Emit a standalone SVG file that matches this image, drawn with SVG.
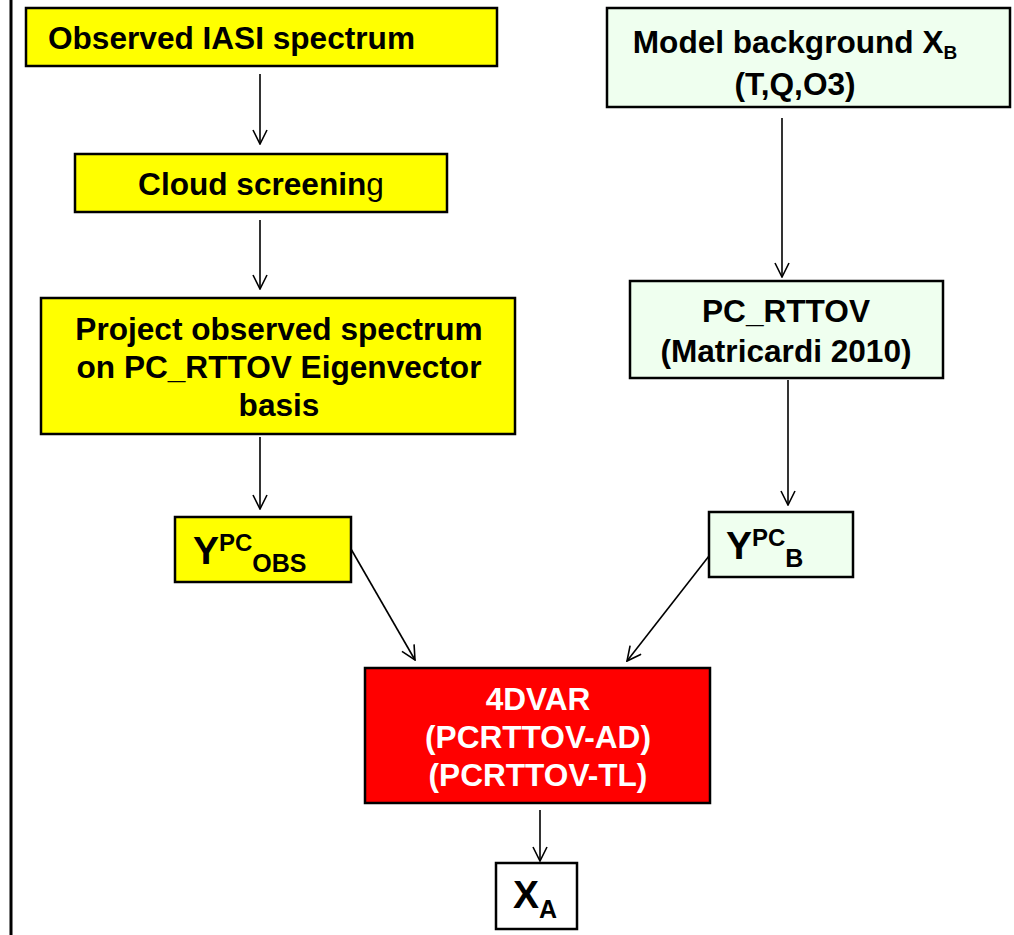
<svg xmlns="http://www.w3.org/2000/svg" width="1014" height="935" viewBox="0 0 1014 935">
<defs>
<style>
.box{stroke:#000;stroke-width:2.5}
.yel{fill:#FFFF00}
.grn{fill:#EFFFEF}
.red{fill:#FF0000}
.wht{fill:#FFFFFF}
.t{font-family:"Liberation Sans",Arial,sans-serif;font-weight:bold;font-size:31.6px;fill:#000;text-anchor:middle}
.tw{fill:#FFFFFF}
.big{font-size:39px}
.sup{font-size:24px}
.sub{font-size:25px}
.conn line{stroke:#000;stroke-width:1.6;marker-end:url(#arr)}
</style>
<marker id="arr" viewBox="0 0 16 16" refX="15" refY="8" markerWidth="16" markerHeight="16" markerUnits="userSpaceOnUse" orient="auto">
<path d="M1,1 L15,8 L1,15" fill="none" stroke="#000" stroke-width="1.6"/>
</marker>
</defs>
<rect x="0" y="0" width="1014" height="935" fill="#FFFFFF"/>
<line x1="11" y1="0" x2="11" y2="935" stroke="#000" stroke-width="3"/>

<g id="conn" class="conn">
<line x1="260" y1="74" x2="260" y2="144"/>
<line x1="260" y1="220" x2="260" y2="289"/>
<line x1="260" y1="437" x2="260" y2="509"/>
<line x1="782" y1="118" x2="782" y2="277"/>
<line x1="788" y1="380" x2="788" y2="505"/>
<line x1="351" y1="549" x2="415" y2="660"/>
<line x1="709" y1="556" x2="627" y2="661"/>
<line x1="540" y1="810" x2="540" y2="861"/>
</g>

<g id="obs">
<rect class="box yel" x="26" y="8" width="471" height="58"/>
<text class="t" x="48" y="49" style="text-anchor:start">Observed IASI spectrum</text>
</g>

<g id="cloud">
<rect class="box yel" x="75" y="154" width="372" height="58"/>
<text class="t" x="261" y="195">Cloud screenin<tspan style="font-weight:normal">g</tspan></text>
</g>

<g id="project">
<rect class="box yel" x="41" y="298" width="474" height="136"/>
<text class="t" x="279" y="340">Project observed spectrum</text>
<text class="t" x="279" y="378">on PC_RTTOV Eigenvector</text>
<text class="t" x="279" y="416">basis</text>
</g>

<g id="ypcobs">
<rect class="box yel" x="175" y="517" width="176" height="65"/>
<text class="t big" x="193" y="564" style="text-anchor:start">Y<tspan class="sup" dy="-13">PC</tspan><tspan class="sub" dy="21">OBS</tspan></text>
</g>

<g id="model">
<rect class="box grn" x="607" y="8" width="403" height="99"/>
<text class="t" x="795" y="53">Model background X<tspan style="font-size:19px" dy="6">B</tspan></text>
<text class="t" x="795" y="95">(T,Q,O3)</text>
</g>

<g id="pcrttov">
<rect class="box grn" x="630" y="281" width="313" height="97"/>
<text class="t" x="786" y="322">PC_RTTOV</text>
<text class="t" x="786" y="362">(Matricardi 2010)</text>
</g>

<g id="ypcb">
<rect class="box grn" x="709" y="512" width="144" height="65"/>
<text class="t big" x="726" y="559" style="text-anchor:start">Y<tspan class="sup" dy="-13">PC</tspan><tspan class="sub" dy="21">B</tspan></text>
</g>

<g id="var4d">
<rect class="box red" x="365" y="668" width="345" height="135"/>
<text class="t tw" x="538" y="710">4DVAR</text>
<text class="t tw" x="538" y="748">(PCRTTOV-AD)</text>
<text class="t tw" x="538" y="786">(PCRTTOV-TL)</text>
</g>

<g id="xa">
<rect class="box wht" x="496" y="863" width="81" height="66"/>
<text class="t big" x="513" y="908" style="text-anchor:start">X<tspan class="sub" dy="10">A</tspan></text>
</g>
</svg>
